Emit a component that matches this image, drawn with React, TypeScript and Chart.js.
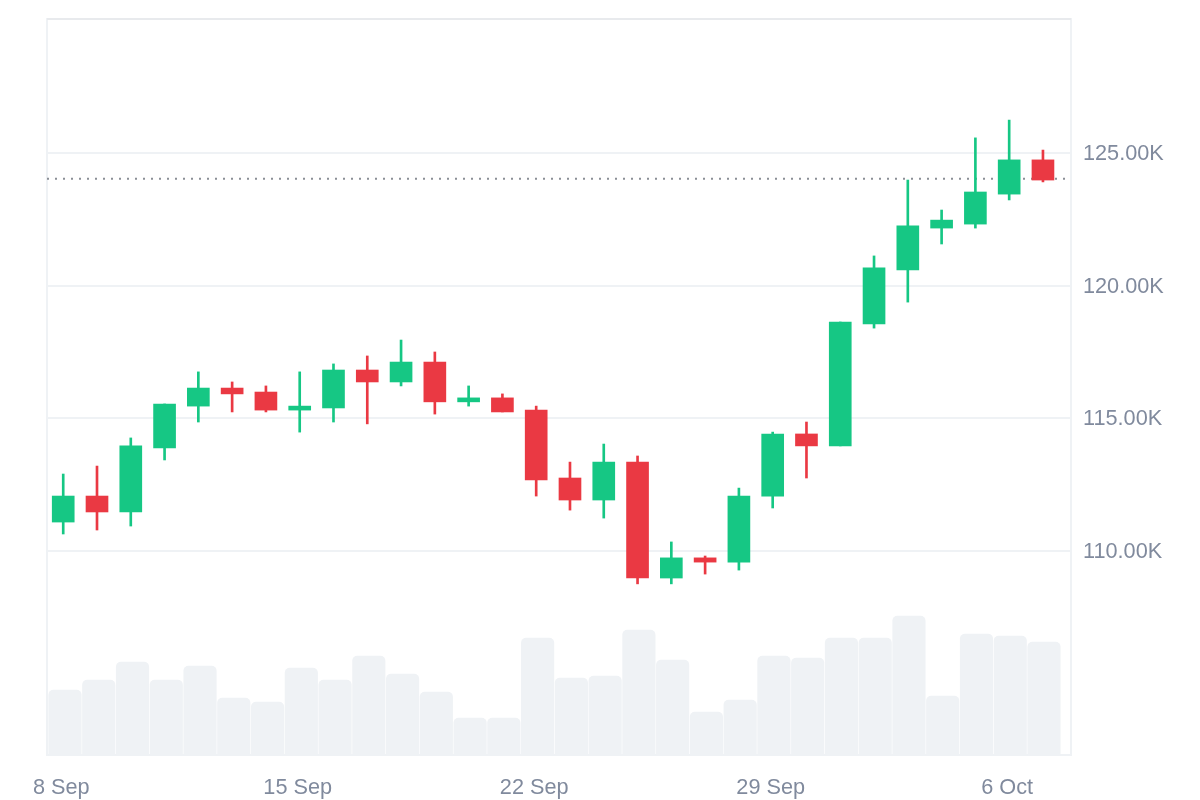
import { Chart, registerables } from 'chart.js';
import { useEffect, useRef } from 'react';

Chart.register(...registerables);

const tickLabels: Record<number, string> = { 0: '8 Sep', 7: '15 Sep', 14: '22 Sep', 21: '29 Sep', 28: '6 Oct' };
const priceTicks = [110000, 115000, 120000, 125000];

// daily candles, oldest first
const opens = [111090, 112070, 111470, 113880, 115460, 116140, 115990, 115310, 115390, 116820, 116370, 117120, 115620, 115770, 115310, 112750, 111920, 113350, 108980, 109740, 109580, 112070, 114410, 113960, 118560, 120590, 122170, 122320, 123450, 124740];
const closes = [112070, 111470, 113960, 115540, 116140, 115920, 115310, 115460, 116820, 116370, 117120, 115620, 115770, 115240, 112680, 111920, 113350, 108980, 109740, 109580, 112070, 114410, 113960, 118630, 120670, 122250, 122470, 123530, 124740, 123980];
const highs = [112900, 113200, 114260, 115540, 116750, 116370, 116220, 116750, 117050, 117350, 117950, 117500, 116220, 115920, 115460, 113350, 114030, 113580, 110340, 109810, 112370, 114480, 114860, 118630, 121120, 123980, 122850, 125570, 126240, 125110];
const lows = [110640, 110790, 110940, 113430, 114860, 115240, 115240, 114480, 114860, 114790, 116220, 115160, 115460, 115240, 112070, 111540, 111240, 108760, 108760, 109130, 109280, 111620, 112750, 113960, 118400, 119380, 121570, 122170, 123230, 123910];
const volumes = [32.5, 37.5, 46.5, 37.5, 44.5, 28.5, 26.5, 43.5, 37.5, 49.5, 40.5, 31.5, 18.5, 18.5, 58.5, 38.5, 39.5, 62.5, 47.5, 21.5, 27.5, 49.5, 48.5, 58.5, 58.5, 69.5, 29.5, 60.5, 59.5, 56.5];
const lastPrice = 124030;

const GREEN = '#16c784';
const RED = '#ea3943';
const GRID = '#eff2f5';
const TEXT = '#808a9d';
const X_MIN = -0.48;
const X_MAX = 29.83;

const candleColors = opens.map((o, i) => (closes[i] >= o ? GREEN : RED));

const frame = {
  id: 'frame',
  beforeDatasetsDraw(chart: Chart) {
    const { ctx, chartArea: a } = chart;
    ctx.save();
    ctx.strokeStyle = GRID;
    ctx.lineWidth = 2;
    ctx.strokeRect(a.left, a.top, a.right - a.left, a.bottom - a.top);
    // top edge is a touch darker than the rest
    ctx.strokeStyle = '#e8eaed';
    ctx.beginPath();
    ctx.moveTo(a.left, a.top);
    ctx.lineTo(a.right, a.top);
    ctx.stroke();
    ctx.restore();
  },
};

const App = () => {
  const chartRef = useRef<HTMLCanvasElement>(null);

  useEffect(() => {
    if (!chartRef.current) return;
    const chart = new Chart(chartRef.current, {
      type: 'bar',
      data: {
        datasets: [
          {
            data: opens.map((o, i) => ({ x: i, y: [o, closes[i]] })),
            backgroundColor: candleColors,
            grouped: false,
            barPercentage: 1,
            categoryPercentage: 1,
            maxBarThickness: 22,
            order: 1,
          },
          {
            data: lows.map((l, i) => ({ x: i, y: [l, highs[i]] })),
            backgroundColor: candleColors,
            grouped: false,
            barPercentage: 1,
            categoryPercentage: 1,
            maxBarThickness: 2,
            order: 2,
          },
          {
            type: 'line',
            data: [{ x: X_MIN, y: lastPrice }, { x: X_MAX, y: lastPrice }],
            borderColor: '#8b8f96',
            borderWidth: 2,
            borderDash: [2, 6],
            pointRadius: 0,
            order: 3,
          },
          {
            data: volumes.map((v, i) => ({ x: i, y: v })),
            xAxisID: 'xVol',
            yAxisID: 'yVol',
            backgroundColor: GRID,
            grouped: false,
            barPercentage: 1,
            categoryPercentage: 1,
            maxBarThickness: 32.5,
            borderRadius: { topLeft: 5, topRight: 5, bottomLeft: 0, bottomRight: 0 },
            order: 4,
          },
        ] as any,
      },
      options: {
        animation: false,
        responsive: false,
        layout: { padding: { left: 47, top: 19 } },
        plugins: { legend: { display: false }, tooltip: { enabled: false } },
        scales: {
          x: {
            type: 'linear',
            offset: false,
            min: X_MIN,
            max: X_MAX,
            afterBuildTicks: (axis) => {
              axis.ticks = Object.keys(tickLabels).map((k) => ({ value: Number(k) }));
            },
            afterFit: (axis) => {
              axis.height = 45;
              axis.paddingLeft = 0;
              axis.paddingRight = 0;
            },
            grid: { display: false },
            border: { display: false },
            ticks: {
              autoSkip: false,
              maxRotation: 0,
              padding: 12,
              labelOffset: -2,
              color: TEXT,
              font: { family: 'Liberation Sans', size: 21.7 },
              callback: (v) => tickLabels[Number(v)],
            },
          },
          // volume bars sit slightly right of the candles
          xVol: { type: 'linear', display: false, offset: false, min: -0.533, max: 29.8 },
          y: {
            position: 'right',
            min: 102310,
            max: 130050,
            afterBuildTicks: (axis) => {
              axis.ticks = priceTicks.map((value) => ({ value }));
            },
            afterFit: (axis) => {
              axis.width = 129;
              axis.paddingTop = 0;
              axis.paddingBottom = 0;
            },
            grid: { color: GRID, lineWidth: 2, drawTicks: false },
            border: { display: false },
            ticks: {
              padding: 12,
              labelOffset: 1,
              color: TEXT,
              font: { family: 'Liberation Sans', size: 21.7 },
              callback: (v) => (Number(v) / 1000).toFixed(2) + 'K',
            },
          },
          yVol: { display: false, min: 0, max: 368 },
        },
      },
      plugins: [frame],
    });

    return () => chart.destroy();
  }, []);

  return (
    <div style={{ position: 'fixed', left: 0, top: 0, width: 1200, height: 800, background: '#fff' }}>
      <canvas ref={chartRef} width={1200} height={800} style={{ display: 'block' }} />
    </div>
  );
};

export default App;
